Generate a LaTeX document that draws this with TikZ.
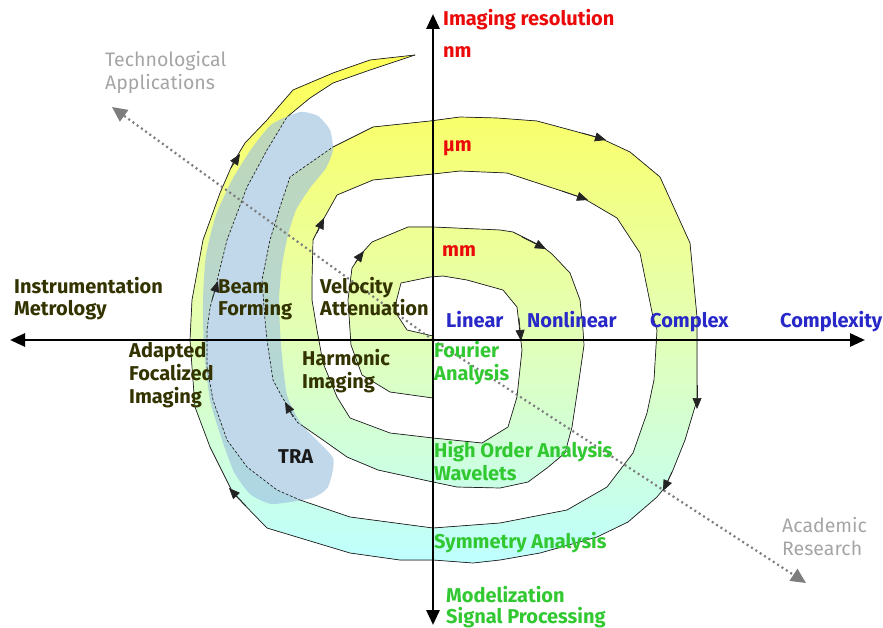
\documentclass[tikz,border=0pt]{standalone}
\usepackage{fontspec}
\setmainfont{Fira Sans}
\usetikzlibrary{arrows.meta}
\definecolor{bandtop}{RGB}{255,255,85}
\definecolor{bandmid}{RGB}{230,255,175}
\definecolor{bandbot}{RGB}{190,255,255}
\definecolor{trablue}{RGB}{160,195,225}
\definecolor{txtred}{RGB}{235,10,10}
\definecolor{txtblue}{RGB}{40,40,200}
\definecolor{txtgreen}{RGB}{50,200,50}
\definecolor{txtolive}{RGB}{51,51,0}
\definecolor{txtgray}{RGB}{165,165,165}
\definecolor{dotgray}{RGB}{125,125,125}
\definecolor{edgecol}{RGB}{35,35,35}
\newcommand\bluereg{plot[smooth cycle,tension=0.35] coordinates {(300,112) (318,116) (330,130) (333,150) (326,168) (310,188) (296,210) (288,235) (282,265) (279,300) (281,345) (287,395) (302,425) (333,458) (328,487) (312,498) (272,504) (250,494) (234,472) (222,440) (210,400) (204,350) (203,300) (206,255) (216,215) (232,180) (252,148) (272,124)}}
\newcommand\spiraledges[1]{%
\draw[#1] plot coordinates {(433,398) (390,392) (362,375) (351,345) (348,300) (352,268) (362,253) (372,242) (408,227) (433,227) (500,230) (513,232) (543,247) (552,254) (570,273) (580,300) (583,330) (584,345) (578,387) (572,427) (565,453) (547,468) (528,482) (500,488) (457,487) (433,482) (378,470) (347,457) (323,440) (297,422) (288,407) (281,395) (273,380) (267,340) (265,320) (262,280) (270,240) (280,207) (290,177) (333,147) (373,127) (430,121) (460,117) (497,118) (537,121) (600,138) (630,152) (660,177) (690,243) (697,317) (697,400) (685,440) (673,470) (665,487) (657,497) (628,522) (597,537) (540,553) (500,560) (473,563) (433,560) (400,560) (350,553) (267,528) (233,493) (210,447) (195,407) (190,340) (192,300) (203,240) (220,193) (233,163) (245,143) (267,120) (293,90) (333,73) (370,60) (415,55)};
\draw[#1] plot coordinates {(433,336) (407,330) (394,310) (401,283) (430,277) (443,276) (467,280) (503,290) (517,307) (520,333) (522,350) (517,397) (508,427) (482,443) (433,438) (390,433) (350,418) (337,397) (323,363) (317,330) (312,300) (312,280) (313,240) (323,220) (337,195) (373,180) (433,174) (460,171) (507,173) (583,198) (617,218) (640,253) (653,317) (657,330) (654,380) (647,413) (633,453) (607,487) (567,510) (500,523) (433,528) (350,517) (300,500) (277,490) (247,467) (227,440) (213,400) (207,367) (207,330) (210,308) (216,285) (227,240) (247,187) (267,150) (287,117) (310,98) (333,83) (370,70) (415,55)};}
\tikzset{
  edge/.style={draw=edgecol, line width=0.7pt, line join=round},
  edgearrow/.style={draw=edgecol, line width=0.7pt, -{Triangle[length=11pt,width=9pt]}},
  axisline/.style={line width=2.8pt, {Triangle[length=15pt,width=13pt]}-{Triangle[length=15pt,width=13pt]}},
  dotarrow/.style={draw=dotgray, line width=2.2pt, dash pattern=on 2pt off 3.2pt, -{Triangle[length=15pt,width=14pt]}},
  lbl/.style={anchor=base west, inner sep=0pt, font=\fontsize{20}{23}\selectfont\bfseries},
  lblthin/.style={anchor=base west, inner sep=0pt, font=\fontsize{19.5}{23}\selectfont},
}
\begin{document}
\begin{tikzpicture}[x=1pt,y=-1pt]
\useasboundingbox (0,0) rectangle (883,628);
% spiral band
\fill[top color=bandtop, bottom color=bandbot, middle color=bandmid]
 plot coordinates {(433,398) (390,392) (362,375) (351,345) (348,300) (352,268) (362,253) (372,242) (408,227) (433,227) (500,230) (513,232) (543,247) (552,254) (570,273) (580,300) (583,330) (584,345) (578,387) (572,427) (565,453) (547,468) (528,482) (500,488) (457,487) (433,482) (378,470) (347,457) (323,440) (297,422) (288,407) (281,395) (273,380) (267,340) (265,320) (262,280) (270,240) (280,207) (290,177) (333,147) (373,127) (430,121) (460,117) (497,118) (537,121) (600,138) (630,152) (660,177) (690,243) (697,317) (697,400) (685,440) (673,470) (665,487) (657,497) (628,522) (597,537) (540,553) (500,560) (473,563) (433,560) (400,560) (350,553) (267,528) (233,493) (210,447) (195,407) (190,340) (192,300) (203,240) (220,193) (233,163) (245,143) (267,120) (293,90) (333,73) (370,60) (415,55)}
 -- plot coordinates {(370,70) (333,83) (310,98) (287,117) (267,150) (247,187) (227,240) (216,285) (210,308) (207,330) (207,367) (213,400) (227,440) (247,467) (277,490) (300,500) (350,517) (433,528) (500,523) (567,510) (607,487) (633,453) (647,413) (654,380) (657,330) (653,317) (640,253) (617,218) (583,198) (507,173) (460,171) (433,174) (373,180) (337,195) (323,220) (313,240) (312,280) (312,300) (317,330) (323,363) (337,397) (350,418) (390,433) (433,438) (482,443) (508,427) (517,397) (522,350) (520,333) (517,307) (503,290) (467,280) (443,276) (430,277) (401,283) (394,310) (407,330) (433,336)} -- cycle;
% TRA region
\fill[trablue, fill opacity=0.65] \bluereg;
% edges: solid outside TRA, dashed inside
\begin{scope}
\clip (0,0) rectangle (883,628) \bluereg;
\spiraledges{edge}
\end{scope}
\begin{scope}
\clip \bluereg;
\spiraledges{edge, dash pattern=on 2.5pt off 2pt}
\end{scope}
% arrowheads along the spiral
\draw[edgearrow] (355,263) -- (364,251);
\draw[edgearrow] (522,237) -- (546,249);
\draw[edgearrow] (519,318) -- (521,341);
\draw[edgearrow] (562,191) -- (588,200);
\draw[edgearrow] (582,133) -- (606,140);
\draw[edgearrow] (697,385) -- (697,409);
\draw[edgearrow] (672,472) -- (663,491);
\draw[edgearrow] (246,506) -- (229,488);
\draw[edgearrow] (231,168) -- (240,154);
\draw[edgearrow] (317,233) -- (324,218);
\draw[edgearrow] (293,417) -- (285,402);
\draw[edgearrow] (212,300) -- (218,281);
% named points
\coordinate (O) at (433,340);
\coordinate (vtop) at (433,14);
\coordinate (vbot) at (433,625);
\coordinate (hl) at (10,340);
\coordinate (hr) at (865,340);
\coordinate (techtip) at (112,107);
\coordinate (acadtip) at (806,583);
% dotted diagonal arrows
\draw[dotarrow] (O) -- (techtip);
\draw[dotarrow] (O) -- (acadtip);
% axes
\draw[axisline] (vbot) -- (vtop);
\draw[axisline] (hl) -- (hr);
% labels
\node[lbl, txtred] (imres) at (443,26) {Imaging resolution};
\node[lbl, txtred] (nm) at (443,58) {nm};
\node[lbl, txtred] (um) at (443,152) {µm};
\node[lbl, txtred] (mm) at (442,257) {mm};
\node[lblthin, txtgray] (tech1) at (105,67) {Technological};
\node[lblthin, txtgray] (tech2) at (105,90) {Applications};
\node[lbl, txtolive] (ins1) at (14,293) {Instrumentation};
\node[lbl, txtolive] (ins2) at (14,316) {Metrology};
\node[lbl, txtolive] (beam1) at (218,293) {Beam};
\node[lbl, txtolive] (beam2) at (218,316) {Forming};
\node[lbl, txtolive] (vel1) at (320,293) {Velocity};
\node[lbl, txtolive] (vel2) at (320,316) {Attenuation};
\node[lbl, txtblue] (lin) at (446,327) {Linear};
\node[lbl, txtblue] (nonlin) at (527,327) {Nonlinear};
\node[lbl, txtblue] (cplx) at (650,327) {Complex};
\node[lbl, txtblue] (cplxty) at (780,327) {Complexity};
\node[lbl, txtgreen] (four1) at (434,357) {Fourier};
\node[lbl, txtgreen] (four2) at (434,380) {Analysis};
\node[lbl, txtolive] (ad1) at (129,357) {Adapted};
\node[lbl, txtolive] (ad2) at (129,380) {Focalized};
\node[lbl, txtolive] (ad3) at (129,403) {Imaging};
\node[lbl, txtolive] (harm1) at (302,365) {Harmonic};
\node[lbl, txtolive] (harm2) at (302,388) {Imaging};
\node[lbl, black!90] (tra) at (278,463) {TRA};
\node[lbl, txtgreen] (hoa1) at (434,457) {High Order Analysis};
\node[lbl, txtgreen] (hoa2) at (434,480) {Wavelets};
\node[lbl, txtgreen] (sym) at (434,548) {Symmetry Analysis};
\node[lbl, txtgreen] (mod1) at (446,602) {Modelization};
\node[lbl, txtgreen] (mod2) at (446,623) {Signal Processing};
\node[lblthin, txtgray] (acad1) at (782,532) {Academic};
\node[lblthin, txtgray] (acad2) at (782,555) {Research};
\end{tikzpicture}
\end{document}
